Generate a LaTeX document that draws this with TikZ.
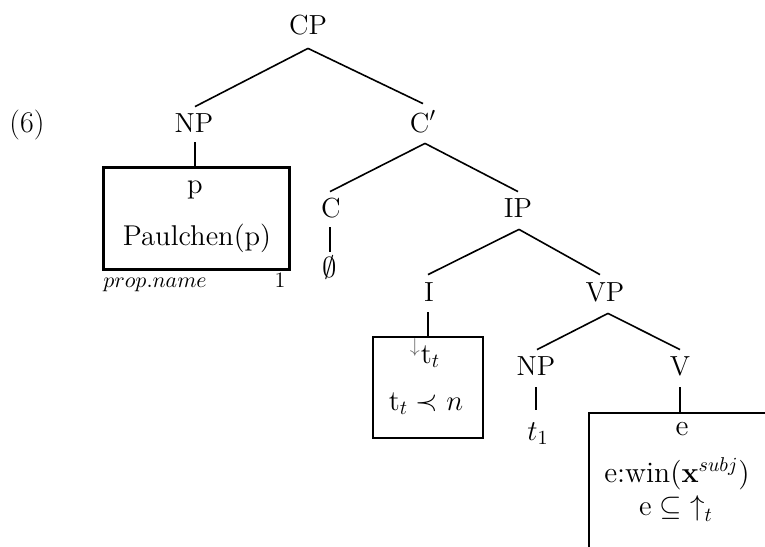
\documentclass[tikz,border=0pt]{standalone}
\usepackage{amssymb}
\usetikzlibrary{calc}
\begin{document}
\begin{tikzpicture}[x=0.5pt,y=-0.5pt,
  lab/.style={inner sep=0pt, anchor=base, text height=9.5pt, text depth=0pt, font=\fontsize{13.8}{16}\selectfont},
  txt/.style={inner sep=0pt, anchor=base, font=\fontsize{14.3}{17}\selectfont},
  small/.style={inner sep=0pt, anchor=base, font=\fontsize{11}{13}\selectfont},
  edge/.style={line width=0.8pt},
  stem/.style={line width=1.25pt},
  drsbox/.style={draw, line width=1.5pt, inner sep=0pt},
  thinbox/.style={draw, line width=1.1pt, inner sep=0pt},
]
\useasboundingbox (0,0) rectangle (765,546);
\clip (0,0) rectangle (765,546);

% example number
\node[txt, font=\fontsize{15}{18}\selectfont] (num) at (27,132) {(6)};

% tree labels
\node[lab] (cp)   at (308,34)  {CP};
\node[lab] (np1)  at (194,132) {NP};
\node[lab] (cbar) at (423,132) {C$'$};
\node[lab] (c)    at (331,217) {C};
\node[lab] (empty) at (330,277) {$\emptyset$};
\node[lab] (ip)   at (518,217) {IP};
\node[lab] (i)    at (429,301) {I};
\node[lab] (vp)   at (605,301) {VP};
\node[lab] (np2)  at (536,375) {NP};
\node[lab] (v)    at (680,375) {V};
\node[lab] (t1)   at (538,440) {$t_1$};

% boxes
\node[drsbox, minimum width=93pt, minimum height=51pt] (box1) at (196,218) {};
\node[thinbox, minimum width=55pt, minimum height=50.5pt] (box2) at (428,387.5) {};
\node[thinbox, anchor=north west, minimum width=130pt, minimum height=100pt] (box3) at (588,412) {};

% box contents
\node[txt] (b1a) at (195,193) {p};
\node[txt] (b1b) at (197,245) {Paulchen(p)};
\node[small, anchor=base west] (pn) at (103,287) {$prop.name$};
\node[small] (one) at (280,287) {1};

\node[txt] (b2a) at (425,363) {${}^{\color{black!60}\downarrow}\mathrm{t}_t$};
\node[txt] (b2b) at (426,410) {$\mathrm{t}_t \prec n$};

\node[txt, font=\fontsize{14.8}{17}\selectfont] (b3a) at (682,435) {e};
\node[txt, font=\fontsize{14.8}{17}\selectfont] (b3b) at (677,482) {e:win($\mathbf{x}^{subj}$)};
\node[txt, font=\fontsize{14.8}{17}\selectfont] (b3c) at (676,515) {$\mathrm{e}\subseteq{\uparrow}_t$};

% tree edges
\draw[edge] ($(cp.south)+(0,14)$) -- ($(np1.north)+(1,-6)$);
\draw[edge] ($(cp.south)+(0,14)$) -- ($(cbar.north)+(0,-9)$);
\draw[edge] ($(cbar.south)+(2,11)$) -- ($(c.north)+(-1,-6)$);
\draw[edge] ($(cbar.south)+(2,11)$) -- ($(ip.north)+(0,-6)$);
\draw[edge] ($(ip.south)+(1,12)$) -- ($(i.north)+(-1,-7)$);
\draw[edge] ($(ip.south)+(1,12)$) -- ($(vp.north)+(-5,-7)$);
\draw[edge] ($(vp.south)+(3,12)$) -- ($(np2.north)+(1,-6)$);
\draw[edge] ($(vp.south)+(3,12)$) -- ($(v.north)+(0,-6)$);

% stems
\coordinate (s1) at ($(np1.south)+(1,10)$);
\coordinate (s2) at ($(i.south)+(-1,11)$);
\coordinate (s3) at ($(v.south)+(0,12)$);
\coordinate (s4) at ($(np2.south)+(0,12)$);
\draw[edge] (s1) -- (s1 |- box1.north);
\draw[line width=1pt] ($(c.south)+(-1,10)$) -- ($(empty.north)+(0,-6)$);
\draw[stem] (s2) -- (s2 |- box2.north);
\draw[stem] (s4) -- ($(s4 |- t1.north)+(0,-11)$);
\draw[edge] (s3) -- (s3 |- box3.north);
\end{tikzpicture}
\end{document}
